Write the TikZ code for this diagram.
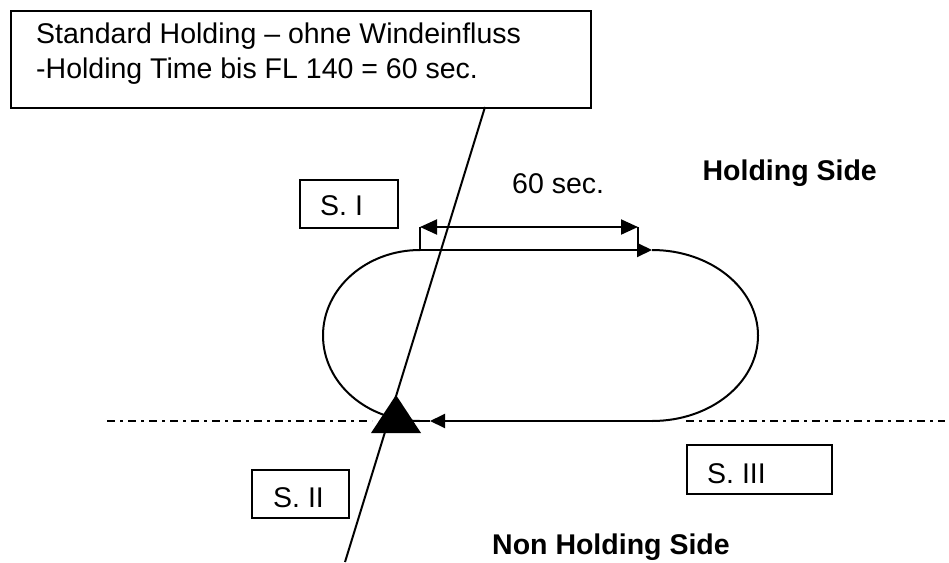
\documentclass[tikz,border=0pt]{standalone}
\usepackage{fontspec}
\setmainfont{Liberation Sans}
\usetikzlibrary{arrows.meta}
\tikzset{
  ln/.style={line width=2pt, black},
  lbl/.style={inner sep=0pt, anchor=base west, font=\fontsize{28.5}{34}\selectfont},
  blbl/.style={lbl, font=\fontsize{28.5}{34}\selectfont\bfseries},
  sbox/.style={draw, line width=2pt, rectangle, inner sep=0pt, anchor=north west},
  tip/.style={-{Triangle[length=15pt,width=14pt]}},
  dtip/.style={{Triangle[length=17pt,width=15pt]}-{Triangle[length=17pt,width=15pt]}},
  dashdot/.style={line width=2pt, dash pattern=on 8pt off 5pt on 2.5pt off 5.5pt}
}
\begin{document}
\begin{tikzpicture}[x=1pt,y=-1pt]
\useasboundingbox (0,0) rectangle (949,562);
% top information box
\node[sbox, minimum width=580pt, minimum height=97pt] (tbox) at (10,10) {};
\node[lbl] (t1) at (36,43) {Standard Holding -- ohne Windeinfluss};
\node[lbl] (t2) at (36,78) {-Holding Time bis FL 140 = 60 sec.};
% sector boxes
\node[sbox, minimum width=98pt, minimum height=48pt] (s1) at (299,179) {};
\node[lbl] (s1t) at (320,215) {S. I};
\node[sbox, minimum width=97pt, minimum height=48pt] (s2) at (251,469) {};
\node[lbl] (s2t) at (273,507) {S. II};
\node[sbox, minimum width=145pt, minimum height=49pt] (s3) at (686,444) {};
\node[lbl] (s3t) at (707,483) {S. III};
% labels
\node[lbl] (sec) at (512,193) {60 sec.};
\node[blbl, anchor=base east] (hs) at (877,180) {Holding Side};
\node[blbl] (nhs) at (492,554) {Non Holding Side};
% coordinates
\coordinate (tl) at (420,250);
\coordinate (tr) at (652,250);
\coordinate (br) at (652,421);
\coordinate (ba) at (430,421);
\coordinate (bt) at (396,421);
\coordinate (dl) at (420,227);
\coordinate (dr) at (638,227);
\coordinate (tk) at (638,250);
\coordinate (dtop) at (485,107);
\coordinate (dbot) at (345,562);
\coordinate (ll) at (107,421);
\coordinate (lr) at (372,421);
\coordinate (rl) at (686,421);
\coordinate (rr) at (945,421);
\coordinate (ta) at (396,395);
\coordinate (tbl) at (371,433);
\coordinate (tbr) at (421,433);
% dash-dot axis
\draw[dashdot] (ll) -- (lr);
\draw[dashdot] (rl) -- (rr);
% holding pattern
\draw[ln] (tl) arc[start angle=-90, end angle=-270, x radius=97, y radius=85.5];
\draw[ln] (tr) arc[start angle=-90, end angle=90, x radius=106, y radius=85.5];
\draw[ln, tip] (tl) -- (tr);
\draw[ln, tip] (br) -- (ba);
\draw[ln] (ba) -- (bt);
% dimension
\draw[ln, dtip] (dl) -- (dr);
\draw[ln] (dl) -- (tl);
\draw[ln] (dr) -- (tk);
% inbound course line
\draw[ln] (dtop) -- (dbot);
% fix triangle
\fill (ta) -- (tbr) -- (tbl) -- cycle;
\end{tikzpicture}
\end{document}
